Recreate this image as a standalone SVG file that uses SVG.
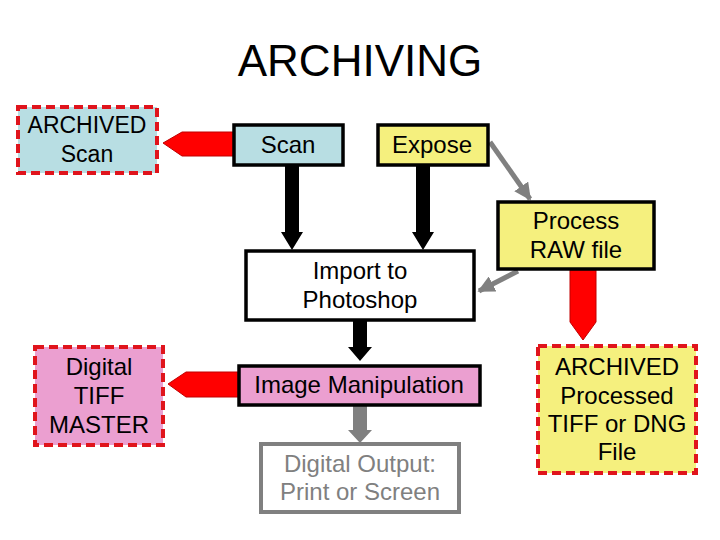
<svg xmlns="http://www.w3.org/2000/svg" width="720" height="540" viewBox="0 0 720 540">
<style>
text{font-family:"Liberation Sans",Arial,sans-serif;font-size:24px;fill:#000;text-anchor:middle}
.title{font-size:44px}
.sm{font-size:23px}
.solid{stroke:#000;stroke-width:3.5}
.arch{stroke:#e0141c;stroke-width:4;stroke-dasharray:9 5}
.blue{fill:#b8dee3}
.yellow{fill:#f5f07e}
.pink{fill:#eb9fd0}
.red{fill:#ff0000;stroke:#c00000;stroke-width:1}
.blk{fill:#000}
.gray{fill:#808080}
.gline{stroke:#808080;stroke-width:5;fill:none}
</style>
<defs>
<marker id="gh" viewBox="0 0 10 10" refX="9" refY="5" markerWidth="3.4" markerHeight="3.4" orient="auto" markerUnits="strokeWidth">
<path d="M0,0 L10,5 L0,10 z" fill="#808080"/>
</marker>
</defs>
<rect width="720" height="540" fill="#fff"/>
<text class="title" x="360" y="76">ARCHIVING</text>

<g id="connectors">
<polygon class="red" points="163,143 182,132 236,132 236,156 182,156"/>
<polygon class="red" points="168,384 186,372 240,372 240,397 186,397"/>
<polygon class="red" points="570,270 596,270 596,322 583,340 570,322"/>
<polygon class="blk" points="285,166 299,166 299,232 303,232 292,250 281,232 285,232"/>
<polygon class="blk" points="416,166 430,166 430,232 434,232 423,250 412,232 416,232"/>
<polygon class="blk" points="353,320 367,320 367,347 372,347 360,361 348,347 353,347"/>
<polygon class="gray" points="353,405 367,405 367,430 372,430 360,443 348,430 353,430"/>
<line class="gline" x1="490" y1="142" x2="530" y2="199" marker-end="url(#gh)"/>
<line class="gline" x1="518" y1="271" x2="479" y2="291" marker-end="url(#gh)"/>
</g>

<g id="archived-scan">
<rect class="blue arch" x="18" y="107" width="139" height="66"/>
<text class="sm" x="87" y="133">ARCHIVED</text>
<text class="sm" x="87" y="162">Scan</text>
</g>
<g id="scan">
<rect class="blue solid" x="234" y="125" width="109" height="40"/>
<text x="288" y="153">Scan</text>
</g>
<g id="expose">
<rect class="yellow solid" x="378" y="125" width="110" height="40"/>
<text x="432" y="153">Expose</text>
</g>
<g id="import">
<rect fill="#fff" class="solid" x="246" y="251" width="228" height="69"/>
<text x="360" y="279">Import to</text>
<text x="360" y="308">Photoshop</text>
</g>
<g id="process-raw">
<rect class="yellow solid" x="498" y="202" width="156" height="67"/>
<text x="576" y="229">Process</text>
<text x="576" y="258">RAW file</text>
</g>
<g id="archived-processed">
<rect class="yellow arch" x="538" y="346" width="158" height="127"/>
<text x="617" y="375">ARCHIVED</text>
<text x="617" y="404">Processed</text>
<text x="617" y="432">TIFF or DNG</text>
<text x="617" y="460">File</text>
</g>
<g id="digital-tiff">
<rect class="pink arch" x="35" y="347" width="128" height="98"/>
<text x="99" y="375">Digital</text>
<text x="99" y="404">TIFF</text>
<text x="99" y="433">MASTER</text>
</g>
<g id="image-manipulation">
<rect class="pink solid" x="239" y="366" width="241" height="39"/>
<text x="359" y="393">Image Manipulation</text>
</g>
<g id="digital-output">
<rect fill="#fff" stroke="#808080" stroke-width="4" x="261" y="444" width="198" height="68"/>
<text x="360" y="472" style="fill:#808080">Digital Output:</text>
<text x="360" y="500" style="fill:#808080">Print or Screen</text>
</g>
</svg>
